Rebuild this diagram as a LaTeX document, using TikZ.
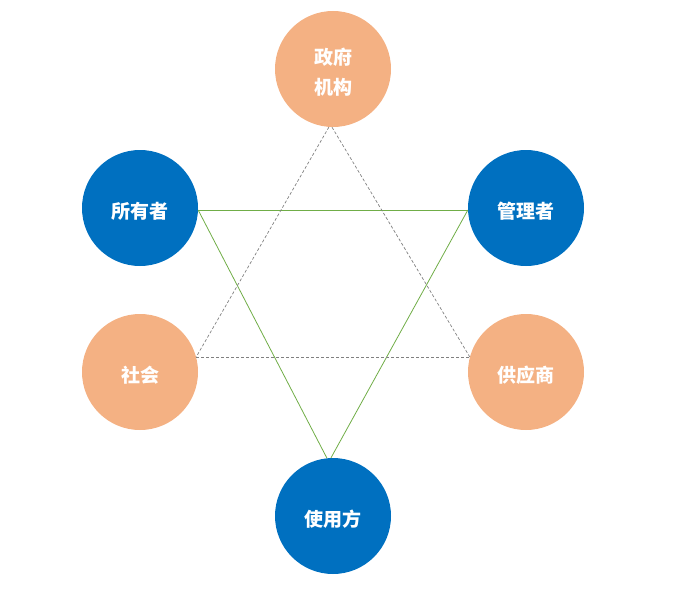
\documentclass[tikz,border=0pt]{standalone}
\usepackage{fontspec}
\newfontfamily\cjk{Noto Sans CJK SC}
\definecolor{cblue}{HTML}{0070C0}
\definecolor{corange}{HTML}{F4B183}
\definecolor{cgreen}{HTML}{70AD47}
\definecolor{cgray}{HTML}{808080}
\begin{document}
\begin{tikzpicture}[x=1pt,y=-1pt,
  role/.style={circle,minimum size=116pt,inner sep=0pt,text=white,
    font=\cjk\bfseries\fontsize{19}{30}\selectfont,align=center},
  bluerole/.style={role,fill=cblue},
  orangerole/.style={role,fill=corange},
  rolelabel/.style={text=white,font=\cjk\bfseries\fontsize{19}{30}\selectfont,align=center,inner sep=0pt},
  greenline/.style={draw=cgreen,line width=0.8pt},
  grayline/.style={draw=cgray,line width=0.7pt,dash pattern=on 3pt off 2pt}]
\useasboundingbox (0,0) rectangle (683,594);
\node[orangerole] (gov) at (333,69) {};
\node[bluerole] (own) at (140,208) {};
\node[bluerole] (mgr) at (526,208) {};
\node[orangerole] (soc) at (140,372) {};
\node[orangerole] (sup) at (526,372) {};
\node[bluerole] (user) at (333,516) {};
\node[rolelabel] (govt) at (333,72) {政府\\机构};
\node[rolelabel] (ownt) at (140,211) {所有者};
\node[rolelabel] (mgrt) at (526,211) {管理者};
\node[rolelabel] (soct) at (140,375) {社会};
\node[rolelabel] (supt) at (526,375) {供应商};
\node[rolelabel] (usert) at (333,519) {使用方};
\draw[greenline] (own.358) -- (mgr.182);
\draw[greenline] (own.358) -- (user.96);
\draw[greenline] (mgr.182) -- (user.92);
\draw[grayline] (gov.266) -- (soc.15);
\draw[grayline] (gov.269) -- (sup.165);
\draw[grayline] (soc.15) -- (sup.165);
\end{tikzpicture}
\end{document}
